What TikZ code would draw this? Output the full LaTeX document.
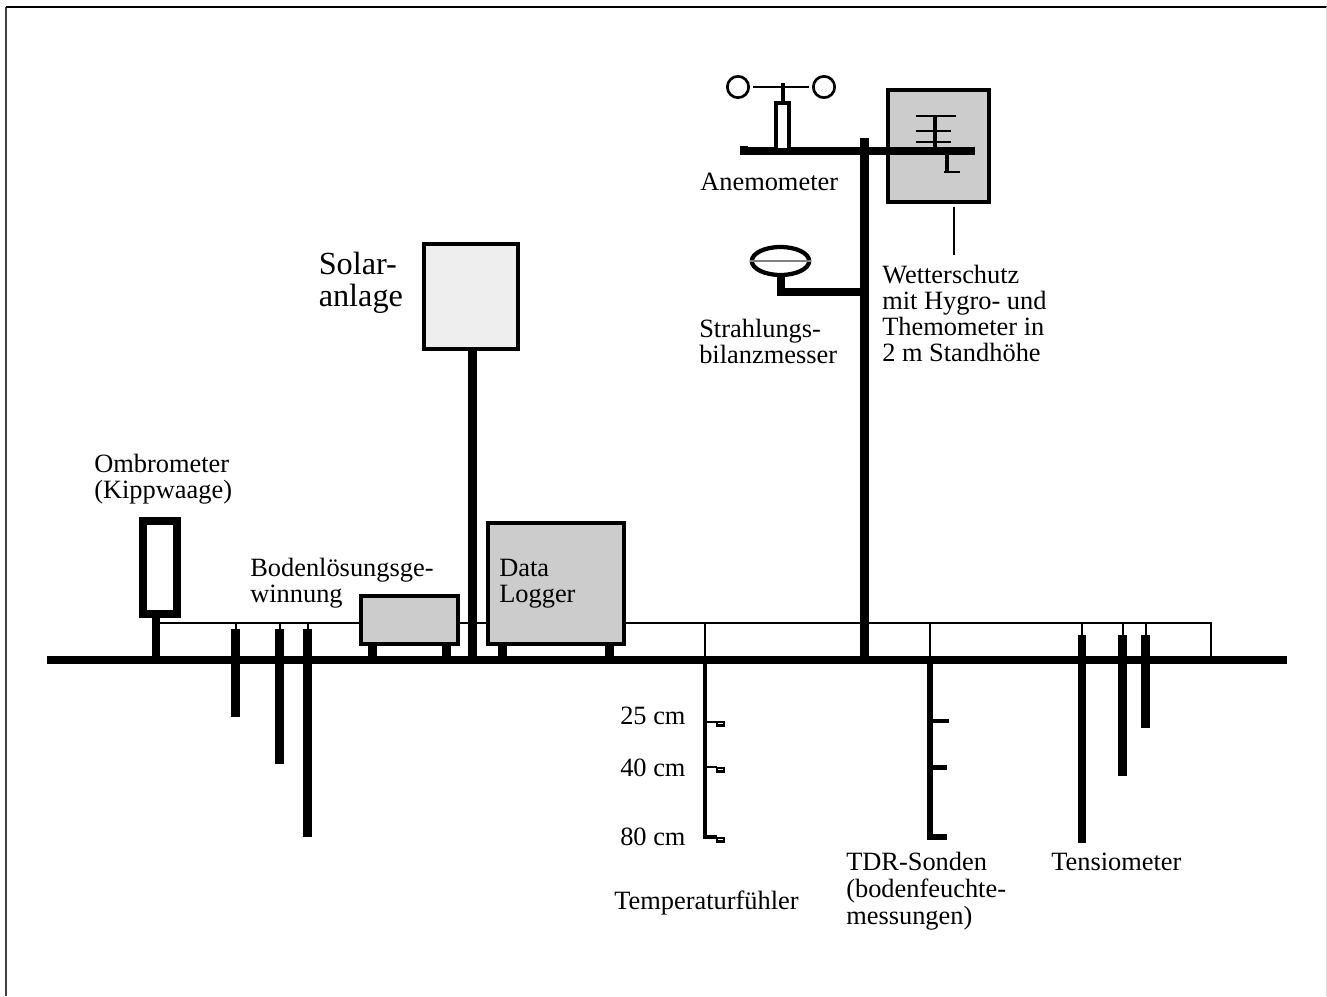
\documentclass[tikz,border=0pt]{standalone}
\usepackage{fontspec}
\setmainfont{Liberation Serif}
\usetikzlibrary{positioning,calc,shapes.geometric}
\definecolor{boxgray}{RGB}{204,204,204}
\definecolor{panelgray}{RGB}{238,238,238}

\begin{document}
\begin{tikzpicture}[x=0.75pt, y=-0.75pt,
    every node/.style={font=\fontsize{19.8}{19.5}\selectfont, inner sep=0pt, align=left},
    unit/.style={rectangle, draw, line width=3pt, inner sep=0pt},
    groundline/.style={line width=5.7pt},
    pole/.style={line width=6.7pt},
    probe/.style={line width=6.7pt},
    wire/.style={line width=1.5pt},
    sensor/.style={line width=2pt},
    tempcell/.style={rectangle, draw, line width=1.8pt, minimum width=5pt, minimum height=2.7pt}]

\useasboundingbox (0,0) rectangle (1327,996);
\draw[line width=1.3pt, black!75] (6,996) -- (6,7);
\draw[line width=1.1pt] (5.5,7) -- (1327,7);
\draw[line width=1pt, black!15] (1326.3,7) -- (1326.3,996);

% boden und leitung
\coordinate (groundL) at (47,660);
\coordinate (groundR) at (1287,660);
\coordinate (wireL) at (156,623);
\coordinate (wireR) at (1211,623);
\draw[wire] (wireL) -- (wireR) -- (wireR |- groundR);
\draw[groundline] (groundL) -- (groundR);

% ombrometer
\node[unit, line width=5.7pt, minimum width=25.8pt, minimum height=70pt, fill=white] (ombro) at (160,567.5) {};
\draw[pole, line width=6pt] (ombro.south -| wireL) -- (wireL |- groundR);
\node (ombrotext) at (94,454) [anchor=north west] {Ombrometer\\(Kippwaage)};

% bodenloesung
\node[unit, fill=boxgray, minimum width=73pt, minimum height=36.5pt] (loesung) at (409.5,620) {};
\node (loesungtext) at (250,558) [anchor=north west] {Bodenlösungsge-\\winnung};
\coordinate (loesungA) at (372.5,645);
\coordinate (loesungB) at (446.5,645);
\draw[pole] (loesungA) -- (loesungA |- groundR);
\draw[pole] (loesungB) -- (loesungB |- groundR);
\coordinate (saugA) at (235.5,717);
\coordinate (saugB) at (279.5,764);
\coordinate (saugC) at (307.5,837);
\draw[wire] (saugA) -- (saugA |- wireL);
\draw[wire] (saugB) -- (saugB |- wireL);
\draw[wire] (saugC) -- (saugC |- wireL);
\draw[probe] (saugA) -- ($(saugA |- wireL)+(0,6)$);
\draw[probe] (saugB) -- ($(saugB |- wireL)+(0,6)$);
\draw[probe] (saugC) -- ($(saugC |- wireL)+(0,6)$);

% solaranlage
\coordinate (solarPole) at (472.5,350);
\draw[pole] (solarPole) -- (solarPole |- groundR);
\node[unit, fill=panelgray, minimum width=70.5pt, minimum height=78.5pt] (solar) at (471,296.5) {};
\node (solartext) at (318.5,252) [anchor=north west, font=\fontsize{24.2}{24}\selectfont] {Solar-\\anlage};

% data logger
\coordinate (loggerA) at (502.5,645);
\coordinate (loggerB) at (609.5,645);
\draw[pole] (loggerA) -- (loggerA |- groundR);
\draw[pole] (loggerB) -- (loggerB |- groundR);
\node[unit, fill=boxgray, minimum width=102pt, minimum height=90.5pt] (logger) at (555.5,583.5) {};
\node (loggertext) at (499,559) [anchor=north west] {Data\\Logger};

% mast
\coordinate (mastTop) at (864.5,138);
\draw[pole] (mastTop) -- (mastTop |- groundR);

% wetterschutz
\node[unit, fill=boxgray, minimum width=76pt, minimum height=84pt] (schutz) at (938.5,145.5) {};
\coordinate (armL) at (740,151);
\coordinate (armR) at (975,151);
\draw[pole] (armL) -- (armR);
\draw[line width=6pt] ($(armL)+(4,-5)$) -- ($(armL)+(4,0)$);
\coordinate (hygro) at (935,116);
\draw[line width=2.6pt] (hygro) -- (hygro |- armL);
\draw[sensor] (916,116) -- (956,116);
\draw[sensor] (916,131) -- (951,131);
\draw[sensor] (916,142) -- (951,142);
\draw[sensor, line width=2.4pt] (947,155) -- (947,172) ;
\draw[sensor] (944,172) -- (960,172);
\coordinate (schutzlabel) at (954,255);
\draw[line width=1.5pt] ($(schutz.south -| schutzlabel)+(0,3)$) -- (schutzlabel);
\node (schutztext) at (882,265) [anchor=north west] {Wetterschutz\\mit Hygro- und\\Themometer in\\2 m Standhöhe};

% anemometer
\node[rectangle, draw, line width=3pt, minimum width=10pt, minimum height=35pt, fill=white] (anemo) at (782.5,126.5) {};
\coordinate (cupHub) at (782.5,87);
\node[circle, draw, line width=2pt, minimum size=16pt] (cupL) at (738,87) {};
\node[circle, draw, line width=2pt, minimum size=16pt] (cupR) at (824,87) {};
\draw[sensor] ($(cupL.east)+(3,0)$) -- ($(cupR.west)+(-3,0)$);
\draw[line width=3pt] (anemo.north) -- ($(cupHub)+(0,-4)$);
\node (anemotext) at (700,173) [anchor=north west] {Anemometer};

% strahlungsbilanz
\node[ellipse, draw, line width=3.2pt, minimum width=43pt, minimum height=21pt] (bilanz) at (780.5,261) {};
\draw[line width=0.8pt, gray] (bilanz.west) -- (bilanz.east);
\coordinate (bilanzArm) at (781,292);
\draw[pole] (bilanz.south -| bilanzArm) -- (bilanzArm) -- (bilanzArm -| mastTop);
\node (bilanztext) at (699,319) [anchor=north west] {Strahlungs-\\bilanzmesser};

% temperaturfuehler
\coordinate (tempTop) at (705,623);
\coordinate (tempBot) at (705,837);
\draw[wire] (tempTop) -- (tempTop |- groundR);
\draw[line width=3pt] (tempTop |- groundR) -- (tempBot) -- ++(12,0);
\draw[wire] (705,721.5) -- (717,721.5);
\draw[sensor] (705,767) -- (717,767);
\node[tempcell] (tempA) at (720.5,723.5) {};
\node[tempcell] (tempB) at (720.5,769.5) {};
\node[tempcell] (tempC) at (720.5,839.5) {};
\node (temp25) at (620,707) [anchor=north west] {25 cm};
\node (temp40) at (620,759) [anchor=north west] {40 cm};
\node (temp80) at (620,828) [anchor=north west] {80 cm};
\node (temptext) at (614,891) [anchor=north west] {Temperaturfühler};

% tdr-sonden
\coordinate (tdrTop) at (930,623);
\coordinate (tdrBot) at (930,837);
\draw[wire] (tdrTop) -- (tdrTop |- groundR);
\draw[line width=4.5pt] (tdrTop |- groundR) -- (tdrBot) -- ++(17,0);
\draw[line width=3.7pt] (930,721) -- (949,721);
\draw[line width=3.7pt] (930,767.5) -- (947,767.5);
\node (tdrtext) at (846,852) [anchor=north west, font=\fontsize{19.8}{20.4}\selectfont] {TDR-Sonden\\(bodenfeuchte-\\messungen)};

% tensiometer
\coordinate (tensA) at (1082,843);
\coordinate (tensB) at (1122.5,776);
\coordinate (tensC) at (1145.5,728);
\draw[wire] (tensA) -- (tensA |- wireL);
\draw[wire] (tensB) -- (tensB |- wireL);
\draw[wire] (tensC) -- (tensC |- wireL);
\draw[probe] (tensA) -- ($(tensA |- wireL)+(0,12)$);
\draw[probe] (tensB) -- ($(tensB |- wireL)+(0,12)$);
\draw[probe] (tensC) -- ($(tensC |- wireL)+(0,12)$);
\node (tenstext) at (1051,853) [anchor=north west] {Tensiometer};

\end{tikzpicture}
\end{document}
